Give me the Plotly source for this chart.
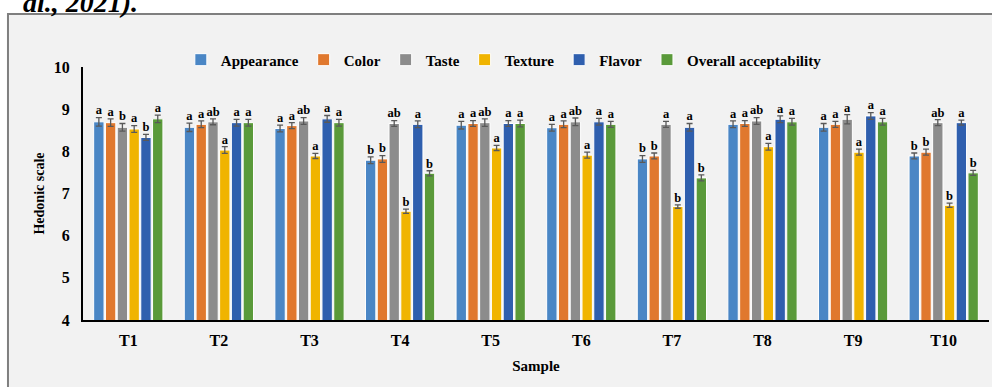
import plotly.graph_objects as go

samples = ["T1", "T2", "T3", "T4", "T5", "T6", "T7", "T8", "T9", "T10"]

appearance = [8.70, 8.57, 8.54, 7.79, 8.62, 8.56, 7.82, 8.64, 8.57, 7.89]
color      = [8.68, 8.64, 8.61, 7.82, 8.66, 8.64, 7.89, 8.66, 8.64, 7.98]
taste      = [8.57, 8.70, 8.72, 8.66, 8.68, 8.70, 8.64, 8.72, 8.76, 8.68]
texture    = [8.53, 8.03, 7.89, 6.58, 8.08, 7.91, 6.69, 8.11, 7.98, 6.72]
flavor     = [8.33, 8.68, 8.77, 8.64, 8.66, 8.70, 8.57, 8.76, 8.84, 8.68]
overall    = [8.77, 8.68, 8.68, 7.48, 8.66, 8.64, 7.37, 8.70, 8.70, 7.49]

appearance_err = [0.10, 0.10, 0.08, 0.08, 0.09, 0.08, 0.08, 0.08, 0.09, 0.07]
color_err      = [0.09, 0.08, 0.07, 0.08, 0.07, 0.08, 0.07, 0.07, 0.07, 0.07]
taste_err      = [0.09, 0.07, 0.08, 0.07, 0.09, 0.09, 0.07, 0.08, 0.11, 0.07]
texture_err    = [0.08, 0.08, 0.06, 0.05, 0.06, 0.07, 0.04, 0.08, 0.07, 0.05]
flavor_err     = [0.07, 0.08, 0.08, 0.08, 0.07, 0.08, 0.09, 0.08, 0.08, 0.06]
overall_err    = [0.09, 0.08, 0.08, 0.06, 0.08, 0.07, 0.07, 0.08, 0.08, 0.06]

appearance_lbl = ["a", "a", "a", "b", "a", "a", "b", "a", "a", "b"]
color_lbl      = ["a", "a", "a", "b", "a", "a", "b", "a", "a", "b"]
taste_lbl      = ["b", "ab", "ab", "ab", "ab", "ab", "a", "ab", "a", "ab"]
texture_lbl    = ["a", "a", "a", "b", "a", "a", "b", "a", "a", "b"]
flavor_lbl     = ["b", "a", "a", "a", "a", "a", "a", "a", "a", "a"]
overall_lbl    = ["a", "a", "a", "b", "a", "a", "b", "a", "a", "b"]

series_names = ["Appearance", "Color", "Taste", "Texture", "Flavor", "Overall acceptability"]
series_colors = ["#4a86c5", "#e0782e", "#8c8c8c", "#f0b400", "#2f5fae", "#5a9a3a"]

values = [appearance, color, taste, texture, flavor, overall]
errors = [appearance_err, color_err, taste_err, texture_err, flavor_err, overall_err]
labels = [appearance_lbl, color_lbl, taste_lbl, texture_lbl, flavor_lbl, overall_lbl]

FONT = "Liberation Serif"

fig = go.Figure()
for name, col, v, e in zip(series_names, series_colors, values, errors):
    fig.add_trace(go.Bar(
        x=samples, y=v, name=name,
        marker=dict(color=col, line=dict(color="white", width=1)),
        error_y=dict(type="data", array=e, color="#595959", thickness=1.3, width=3),
    ))

for name, v, e, l in zip(series_names, values, errors, labels):
    fig.add_trace(go.Scatter(
        x=samples, y=[a + b for a, b in zip(v, e)], mode="text", text=l,
        textposition="top center", showlegend=False, hoverinfo="skip",
        textfont=dict(family=FONT, size=12.5, color="black", weight="bold"),
    ))

fig.update_layout(
    width=992, height=387,
    margin=dict(l=83, r=3, t=67, b=67, autoexpand=False),
    barmode="group", bargap=0.22, bargroupgap=0.12,
    scattermode="group", scattergap=0.22,
    paper_bgcolor="white", plot_bgcolor="rgba(0,0,0,0)",
    font=dict(family=FONT, color="black"),
    hovermode=False,
    showlegend=True,
    legend=dict(
        orientation="h", x=0.4645, xanchor="center", y=1.028, yanchor="middle",
        font=dict(family=FONT, size=15, weight="bold", color="black"),
        bgcolor="rgba(0,0,0,0)", itemwidth=30, traceorder="normal",
    ),
    shapes=[dict(
        type="rect", xref="paper", yref="paper",
        x0=-0.0828, x1=1.05, y0=-0.4, y1=1.2095,
        line=dict(color="#7f7f7f", width=2), fillcolor="#f2f2f2", layer="below",
    )],
    annotations=[dict(
        text="<b><i>al., 2021).</i></b>", xref="paper", yref="paper",
        x=(140 - 83) / 906, xanchor="right", y=(320 - 20) / 253, yanchor="bottom",
        showarrow=False, font=dict(family=FONT, size=28, color="black"),
    )],
)

fig.update_xaxes(
    showline=True, linecolor="black", linewidth=2, ticks="", showgrid=False,
    automargin=False,
    tickfont=dict(family=FONT, size=16, weight="bold"), ticklabelstandoff=5,
    title=dict(text="Sample", font=dict(family=FONT, size=15, weight="bold"), standoff=12),
)
fig.update_yaxes(
    range=[4, 10], dtick=1, showline=True, linecolor="black", linewidth=2,
    ticks="", showgrid=False, zeroline=False, automargin=False,
    tickfont=dict(family=FONT, size=16, weight="bold"), ticklabelstandoff=8,
    title=dict(text="Hedonic scale", font=dict(family=FONT, size=14, weight="bold"), standoff=6),
)

fig.write_html("out.html", config={"displayModeBar": False},
               post_script="document.body.style.margin='0px';")
